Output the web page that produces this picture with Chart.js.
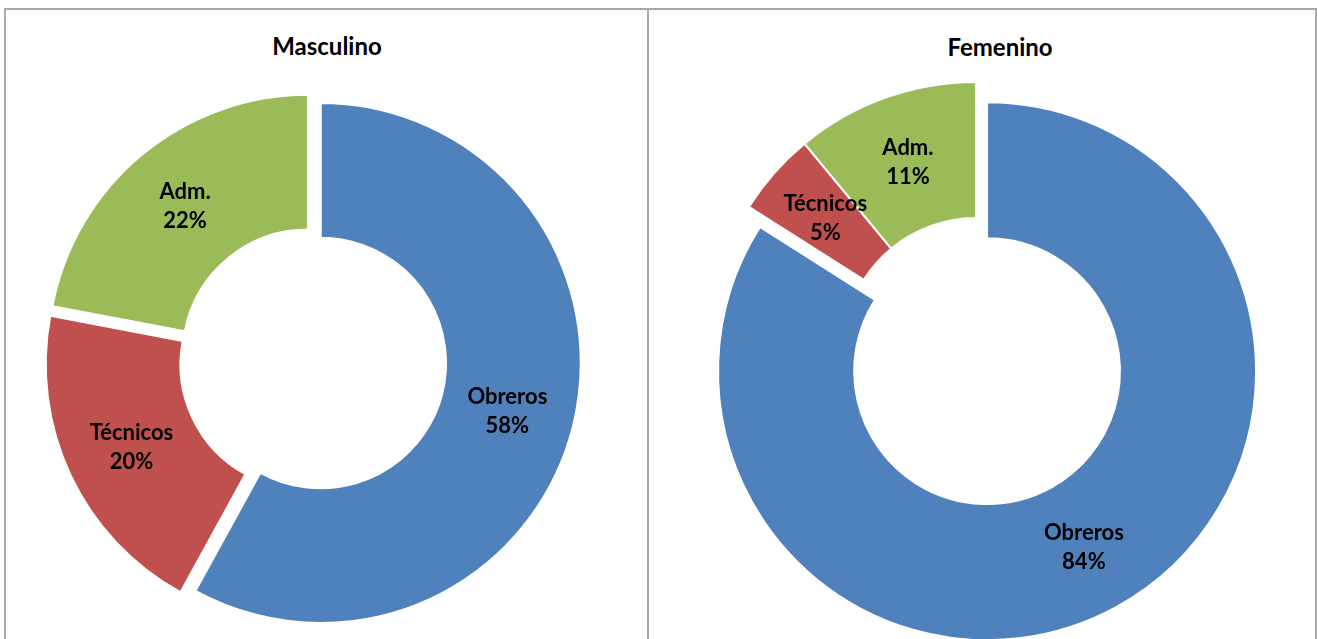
<!DOCTYPE html>
<html>
<head>
<meta charset="utf-8">
<script src="https://cdn.jsdelivr.net/npm/chart.js@4/dist/chart.umd.min.js"></script>
<style>
html,body{margin:0;padding:0;background:#fff;overflow:hidden;width:1317px;height:639px}
#frame{position:absolute;left:4px;top:8px;width:1309px;height:700px;border:2px solid #a9a9a9;box-sizing:content-box}
#divider{position:absolute;left:647px;top:8px;width:2px;height:700px;background:#a9a9a9}
.ttl{position:absolute;font-family:Lato,"Open Sans",sans-serif;font-weight:bold;font-size:24px;color:#000;transform:translateX(-50%);white-space:nowrap;line-height:1}
canvas{position:absolute}
</style>
</head>
<body>
<div id="frame"></div>
<div id="divider"></div>
<div class="ttl" id="t1" style="left:327px;top:34px"></div>
<div class="ttl" id="t2" style="left:1000px;top:35px"></div>
<canvas id="c1" width="600" height="600" style="left:13px;top:61px"></canvas>
<canvas id="c2" width="600" height="600" style="left:676px;top:51px"></canvas>
<script>
// ---- data ----
const categories = ['Obreros', 'Técnicos', 'Adm.'];
const masculino = [58, 20, 22];
const femenino = [84, 5, 11];
const chartTitles = ['Masculino', 'Femenino'];
const colors = ['#4F81BD', '#C0504D', '#9BBB59'];

document.getElementById('t1').textContent = chartTitles[0];
document.getElementById('t2').textContent = chartTitles[1];

// Excel-like slice explosion + in-slice labels
const explodePlugin = {
  id: 'explode',
  beforeDatasetDraw(chart, args, opts) {
    const ctx = chart.ctx;
    const ex = opts.amounts || [];
    args.meta.data.forEach((arc, i) => {
      const e = ex[i] || 0;
      const mid = (arc.startAngle + arc.endAngle) / 2;
      ctx.save();
      ctx.translate(Math.cos(mid) * e, Math.sin(mid) * e);
      arc.draw(ctx);
      ctx.restore();
    });
    return false;
  },
  afterDraw(chart, args, opts) {
    const ctx = chart.ctx;
    const ex = opts.amounts || [];
    const meta = chart.getDatasetMeta(0);
    const data = chart.data.datasets[0].data;
    const total = data.reduce((a, b) => a + b, 0);
    ctx.save();
    ctx.fillStyle = '#000';
    ctx.font = 'bold 22px Lato, "Open Sans", sans-serif';
    ctx.textAlign = 'center';
    ctx.textBaseline = 'middle';
    meta.data.forEach((arc, i) => {
      const e = ex[i] || 0;
      const mid = (arc.startAngle + arc.endAngle) / 2;
      const p = arc.tooltipPosition(true);
      const x = p.x + Math.cos(mid) * e;
      const y = p.y + Math.sin(mid) * e;
      const pct = Math.round(data[i] / total * 100) + '%';
      ctx.fillText(chart.data.labels[i], x, y - 14);
      ctx.fillText(pct, x, y + 15);
    });
    ctx.restore();
  }
};

function makeChart(id, values, radius, cutout, explode) {
  return new Chart(document.getElementById(id), {
    type: 'doughnut',
    data: {
      labels: categories,
      datasets: [{
        data: values,
        backgroundColor: colors,
        borderColor: '#ffffff',
        borderWidth: 2
      }]
    },
    options: {
      responsive: false,
      animation: false,
      events: [],
      radius: radius,
      cutout: cutout,
      layout: { padding: 0 },
      plugins: {
        legend: { display: false },
        tooltip: { enabled: false },
        title: { display: false },
        explode: { amounts: explode }
      }
    },
    plugins: [explodePlugin]
  });
}

makeChart('c1', masculino, 260, '48.2%', [8, 8, 8]);
makeChart('c2', femenino, 269, '49.4%', [23, 0, 0]);
</script>
</body>
</html>
